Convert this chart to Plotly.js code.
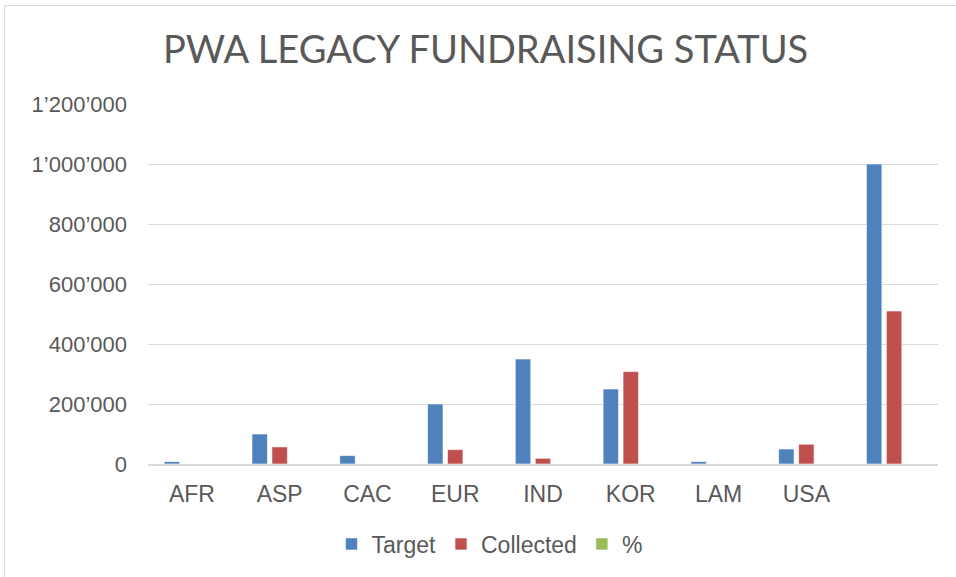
<!DOCTYPE html>
<html>
<head>
<meta charset="utf-8">
<script src="https://cdn.plot.ly/plotly-3.0.1.min.js"></script>
<style>
  html, body { margin: 0; padding: 0; background: #fff; }
  #wrap { position: relative; width: 956px; height: 577px; overflow: hidden; }
  #chart { width: 956px; height: 577px; }
  #frame { position: absolute; left: 4px; top: 5px; width: 980px; height: 600px;
           border: 1.5px solid #d9d9d9; pointer-events: none; }
</style>
</head>
<body>
<div id="wrap">
  <div id="chart"></div>
  <div id="frame"></div>
</div>
<script>
const categories = ["AFR", "ASP", "CAC", "EUR", "IND", "KOR", "LAM", "USA", " "];
const target    = [8000, 100000, 28000, 200000, 350000, 250000, 8000, 50000, 1000000];
const collected = [0, 57000, 0, 48000, 19000, 308000, 0, 66000, 510000];
const percent   = [0, 0.57, 0, 0.24, 0.05, 1.23, 0, 1.32, 0.51];
const yTickVals = [0, 200000, 400000, 600000, 800000, 1000000, 1200000];
const yTickText = ["0", "200\u2019000", "400\u2019000", "600\u2019000", "800\u2019000", "1\u2019000\u2019000", "1\u2019200\u2019000"];

const lineStyle = { color: "rgba(255,255,255,0.6)", width: 1 };
const data = [
  { type: "bar", name: "Target", x: categories, y: target,
    marker: { color: "#4F81BD", line: lineStyle } },
  { type: "bar", name: "Collected", x: categories, y: collected,
    marker: { color: "#C0504D", line: lineStyle } },
  { type: "bar", name: "%", x: categories, y: percent,
    marker: { color: "#9BBB59", line: lineStyle } }
];

const layout = {
  width: 956, height: 577,
  margin: { l: 148, r: 18, t: 104, b: 113 },
  paper_bgcolor: "#ffffff", plot_bgcolor: "#ffffff",
  font: { family: "Liberation Sans, Arial, sans-serif", color: "#595959", size: 23 },
  title: {
    text: "PWA LEGACY FUNDRAISING STATUS",
    font: { family: "Lato, 'Open Sans', sans-serif", size: 38, color: "#595959" },
    xref: "container", x: 0.508, xanchor: "center",
    yref: "container", y: 0.914, yanchor: "middle"
  },
  barmode: "group",
  bargap: 0.318,
  bargroupgap: 0.225,
  xaxis: {
    type: "category",
    showgrid: false,
    showline: true, linecolor: "#d9d9d9", linewidth: 2,
    ticks: "", ticklabelstandoff: 8,
    tickfont: { size: 23, color: "#595959" },
    fixedrange: true
  },
  yaxis: {
    range: [0, 1200000],
    tickvals: yTickVals, ticktext: yTickText,
    showgrid: true, gridcolor: "#d9d9d9", gridwidth: 1,
    zeroline: false, showline: false,
    ticks: "", ticklabelstandoff: 20,
    tickfont: { size: 22, color: "#595959" },
    fixedrange: true
  },
  showlegend: true,
  legend: {
    orientation: "h",
    xref: "container", x: 0.512, xanchor: "center",
    yref: "container", y: 1 - 544 / 577, yanchor: "middle",
    font: { size: 23, color: "#595959" },
    itemwidth: 30,
    traceorder: "normal"
  }
};

Plotly.newPlot("chart", data, layout, { displayModeBar: false, staticPlot: true });
</script>
</body>
</html>
